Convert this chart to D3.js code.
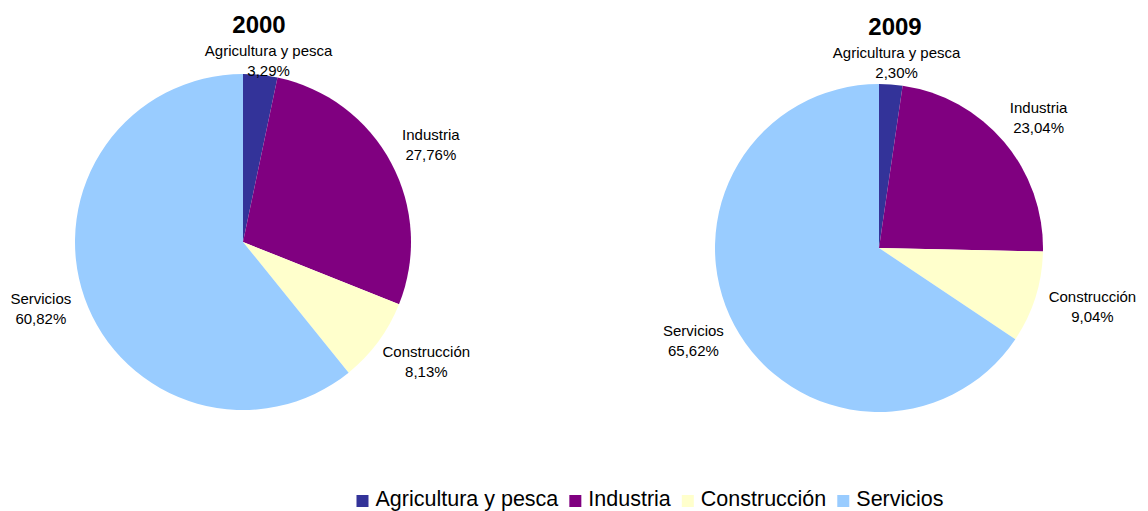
<!DOCTYPE html>
<html><head><meta charset="utf-8">
<script src="https://cdn.jsdelivr.net/npm/d3@7"></script>
<style>body{margin:0;background:#fff}svg{display:block;font-family:"Liberation Sans",Arial,sans-serif}</style>
</head><body><svg id="c" width="1148" height="511"></svg>
<script>
const categories = ["Agricultura y pesca","Industria","Construcción","Servicios"];
const years = ["2000","2009"];
const values2000 = [3.29, 27.76, 8.13, 60.82];
const values2009 = [2.30, 23.04, 9.04, 65.62];
const colors = ["#333399","#800080","#FFFFCC","#99CCFF"];

const svg = d3.select("#c");
const color = d3.scaleOrdinal().domain(categories).range(colors);
const fmt = v => d3.format(".2f")(v).replace(".", ",") + "%";

const layouts = [
  {cx:243, cy:242, r:168, titleY:33},
  {cx:879, cy:248, r:164, titleY:35}
];
const seriesList = [values2000, values2009];

const pie = d3.pie().sort(null).value(d => d.v);

seriesList.forEach((vals, i) => {
  const L = layouts[i];
  const g = svg.append("g").attr("transform", `translate(${L.cx},${L.cy})`);
  const data = categories.map((c, k) => ({c, v: vals[k]}));
  const arcs = pie(data);
  const arc = d3.arc().innerRadius(0).outerRadius(L.r);
  g.selectAll("path").data(arcs).join("path")
    .attr("d", arc).attr("fill", d => color(d.data.c));

  svg.append("text").attr("x", L.cx + 16).attr("y", L.titleY)
    .attr("text-anchor", "middle").attr("font-size", 24).attr("font-weight", "bold")
    .text(years[i]);

  arcs.forEach(a => {
    const t = g.append("text").attr("font-size", 15).attr("text-anchor", "middle").attr("fill", "#000");
    t.append("tspan").attr("x", 0).attr("dy", 0).text(a.data.c);
    t.append("tspan").attr("x", 0).attr("dy", 20).text(fmt(a.data.v));
    const bb = t.node().getBBox();
    const w = bb.width, h = 40;
    const ang = (a.startAngle + a.endAngle) / 2;
    const s = Math.sin(ang), co = -Math.cos(ang);
    const d = L.r + 16;
    let x = s * d + s * w / 2, y = co * d + co * h / 2;
    const minY = (L.titleY + 29) - L.cy;
    if (y < minY) y = minY;
    t.attr("transform", `translate(${x},${y - 6})`);
  });
});

// legend
const leg = svg.append("g");
let x = 0;
categories.forEach((c, k) => {
  leg.append("rect").attr("x", x).attr("y", 495).attr("width", 12).attr("height", 12).attr("fill", colors[k]);
  const t = leg.append("text").attr("x", x + 19).attr("y", 506).attr("font-size", 21.5).text(c);
  x += 19 + t.node().getComputedTextLength() + 11;
});
const total = x - 11;
leg.attr("transform", `translate(${650 - total/2},0)`);
</script></body></html>
